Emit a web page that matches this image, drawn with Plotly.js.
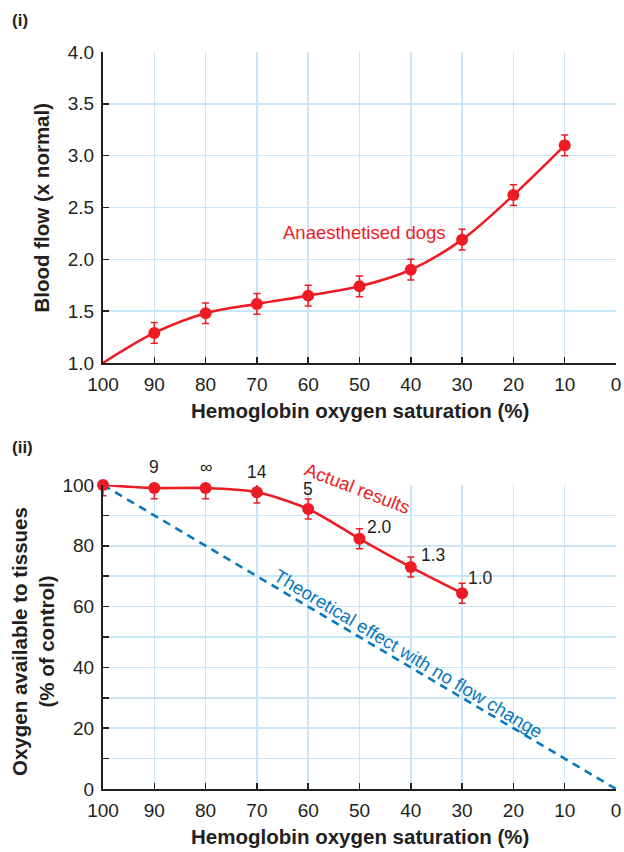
<!DOCTYPE html>
<html>
<head>
<meta charset="utf-8">
<script src="https://cdn.plot.ly/plotly-3.0.1.min.js"></script>
<style>html,body{margin:0;padding:0;background:#fff;}#chart{width:624px;height:852px;}</style>
</head>
<body>
<div id="chart"></div>
<script>
// ---- Data: panel (i) blood flow ----
const flowSat = [90, 80, 70, 60, 50, 40, 30, 20, 10];
const bloodFlow = [1.29, 1.48, 1.57, 1.65, 1.74, 1.90, 2.19, 2.62, 3.10];
const bloodFlowErr = [0.10, 0.10, 0.10, 0.10, 0.10, 0.10, 0.10, 0.10, 0.10];
const flowLineStartSat = 100;
const flowLineStartVal = 1.0;

// ---- Data: panel (ii) oxygen available ----
const oxySat = [100, 90, 80, 70, 60, 50, 40, 30];
const oxyAvail = [100, 99, 99, 97.6, 92.1, 82.3, 73.0, 64.4];
const oxyErr = [3.5, 3.5, 3.5, 3.5, 3.3, 3.3, 3.3, 3.3];
const flowRatioLabels = ['', '9', '\u221e', '14', '5', '2.0', '1.3', '1.0'];
const theoSat = [100, 0];
const theoOxy = [100, 0];

const xTicks = [100, 90, 80, 70, 60, 50, 40, 30, 20, 10, 0];

// ---- styles / offsets ----
const labelDx = [0, 0, 0, 0, 0, 20, 22, 18];
const labelDy = [0, 21, 21, 20, 20, 12, 12, 15];

const RED = '#ed1c24';
const BLUE = '#0a78be';
const INK = '#231f20';
const GRID = '#c8e6f6';
const FONT = 'Liberation Sans, Arial, Helvetica, sans-serif';
const TICK = 19;
const TITLE = 20.5;

const traces = [
  {x: [flowLineStartSat].concat(flowSat), y: [flowLineStartVal].concat(bloodFlow),
   type: 'scatter', mode: 'lines', line: {color: RED, width: 2.6, shape: 'spline', smoothing: 1},
   xaxis: 'x', yaxis: 'y', hoverinfo: 'skip', cliponaxis: false},
  {x: flowSat, y: bloodFlow, type: 'scatter', mode: 'markers',
   marker: {color: RED, size: 12},
   error_y: {type: 'data', array: bloodFlowErr, visible: true, color: RED, thickness: 1.5, width: 3.5},
   xaxis: 'x', yaxis: 'y', cliponaxis: false},
  {x: theoSat, y: theoOxy, type: 'scatter', mode: 'lines',
   line: {color: BLUE, width: 2.6, dash: '8px,6px'}, xaxis: 'x2', yaxis: 'y2', cliponaxis: false},
  {x: oxySat, y: oxyAvail, type: 'scatter', mode: 'lines+markers',
   line: {color: RED, width: 2.6, shape: 'spline', smoothing: 0.8},
   marker: {color: RED, size: 12},
   error_y: {type: 'data', array: oxyErr, visible: true, color: RED, thickness: 1.5, width: 3.5},
   xaxis: 'x2', yaxis: 'y2', cliponaxis: false}
];

function xAxis(anchor) {
  return {
    anchor: anchor, range: [100, 0], tickvals: xTicks, ticktext: xTicks.map(String),
    showgrid: true, gridcolor: GRID, gridwidth: 1.5, zeroline: false,
    showline: true, linecolor: INK, linewidth: 2,
    ticks: 'inside', ticklen: 6, tickwidth: 1.5, tickcolor: INK,
    tickfont: {family: FONT, size: TICK, color: INK}, ticklabelstandoff: 3
  };
}

const annotations = [];
// axis titles
annotations.push({xref: 'x domain', yref: 'y domain', x: 0, y: 0.5, xshift: -61, yshift: 0, textangle: -90,
  text: '<b>Blood flow (x normal)</b>', showarrow: false, xanchor: 'center', yanchor: 'middle',
  font: {family: FONT, size: TITLE, color: INK}});
annotations.push({xref: 'x domain', yref: 'y domain', x: 0.5, y: 0, yshift: -47,
  text: '<b>Hemoglobin oxygen saturation (%)</b>', showarrow: false, xanchor: 'center', yanchor: 'middle',
  font: {family: FONT, size: TITLE, color: INK}});
annotations.push({xref: 'x2 domain', yref: 'y2 domain', x: 0, y: 0.5, xshift: -70, yshift: -5, textangle: -90,
  text: '<b>Oxygen available to tissues<br>(% of control)</b>', showarrow: false, xanchor: 'center', yanchor: 'middle',
  font: {family: FONT, size: TITLE, color: INK}});
annotations.push({xref: 'x2 domain', yref: 'y2 domain', x: 0.5, y: 0, yshift: -47,
  text: '<b>Hemoglobin oxygen saturation (%)</b>', showarrow: false, xanchor: 'center', yanchor: 'middle',
  font: {family: FONT, size: TITLE, color: INK}});
// panel labels
annotations.push({xref: 'paper', yref: 'paper', x: -0.1813, y: 1.0434, text: '<b>(i)</b>', showarrow: false,
  xanchor: 'left', yanchor: 'middle', font: {family: FONT, size: 17, color: INK}});
annotations.push({xref: 'paper', yref: 'paper', x: -0.1813, y: 0.464, text: '<b>(ii)</b>', showarrow: false,
  xanchor: 'left', yanchor: 'middle', font: {family: FONT, size: 17, color: INK}});
// series labels
annotations.push({xref: 'x', yref: 'y', x: 49, y: 2.26, text: 'Anaesthetised dogs', showarrow: false,
  xanchor: 'center', yanchor: 'middle', font: {family: FONT, size: 18.5, color: RED}});
annotations.push({xref: 'x2', yref: 'y2', x: 50.3, y: 99, text: 'Actual results', showarrow: false, textangle: 21,
  xanchor: 'center', yanchor: 'middle', font: {family: FONT, size: 18.5, color: RED}});
annotations.push({xref: 'x2', yref: 'y2', x: 40.5, y: 44.7, text: 'Theoretical effect with no flow change', showarrow: false, textangle: 31,
  xanchor: 'center', yanchor: 'middle', font: {family: FONT, size: 18.5, color: BLUE}});
// flow ratio labels
oxySat.forEach((s, i) => {
  if (!flowRatioLabels[i]) return;
  annotations.push({xref: 'x2', yref: 'y2', x: s, y: oxyAvail[i], text: flowRatioLabels[i], showarrow: false,
    xshift: labelDx[i], yshift: labelDy[i], xanchor: 'center', yanchor: 'middle',
    font: {family: FONT, size: 17.5, color: INK}});
});

const layout = {
  width: 624, height: 852,
  margin: {l: 103, r: 8, t: 52, b: 63},
  paper_bgcolor: '#ffffff', plot_bgcolor: '#ffffff',
  showlegend: false,
  font: {family: FONT, color: INK},
  xaxis: xAxis('y'),
  yaxis: {
    anchor: 'x', domain: [0.578, 1], range: [1, 4], dtick: 0.5, tick0: 1, tickformat: '.1f',
    showgrid: true, gridcolor: GRID, gridwidth: 1.5, zeroline: false,
    showline: true, linecolor: INK, linewidth: 2,
    ticks: 'inside', ticklen: 6, tickwidth: 1.5, tickcolor: INK,
    tickfont: {family: FONT, size: TICK, color: INK}, ticklabelstandoff: 3
  },
  xaxis2: xAxis('y2'),
  yaxis2: {
    anchor: 'x2', domain: [0, 0.4125], range: [0, 100], dtick: 20, tick0: 0,
    showgrid: true, gridcolor: GRID, gridwidth: 1.5, zeroline: false,
    showline: true, linecolor: INK, linewidth: 2,
    ticks: 'inside', ticklen: 6, tickwidth: 1.5, tickcolor: INK,
    minor: {dtick: 10, showgrid: true, gridcolor: GRID, gridwidth: 1.5, ticks: 'inside', ticklen: 6, tickwidth: 1.5, tickcolor: INK},
    tickfont: {family: FONT, size: TICK, color: INK}, ticklabelstandoff: 3
  },
  annotations: annotations
};

Plotly.newPlot('chart', traces, layout, {displayModeBar: false, staticPlot: true});
</script>
</body>
</html>
